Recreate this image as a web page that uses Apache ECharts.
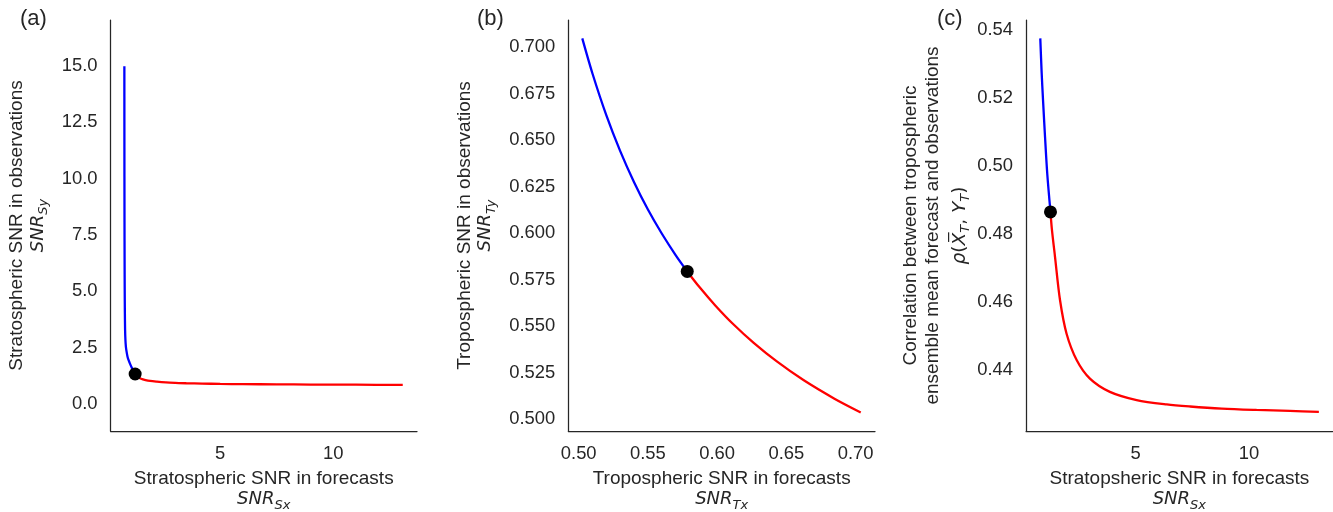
<!DOCTYPE html>
<html>
<head>
<meta charset="utf-8">
<script src="https://cdn.jsdelivr.net/npm/echarts@6/dist/echarts.min.js"></script>
<style>html,body{margin:0;padding:0;background:#fff}#c{width:1333px;height:512px}</style>
</head>
<body>
<div id="c"></div>
<script>
// Panel (a): stratospheric SNR in observations vs forecasts
const aBlueX = [0.763, 0.764, 0.766, 0.769, 0.773, 0.778, 0.785, 0.795, 0.81, 0.83, 0.85, 0.90, 0.95, 1.01, 1.10, 1.24];
const aBlueY = [14.9, 12.5, 10.0, 8.0, 6.3, 5.0, 4.0, 3.2, 2.75, 2.45, 2.3, 2.02, 1.85, 1.70, 1.50, 1.24];
const aRedX = [1.24, 1.35, 1.5, 1.7, 1.9, 2.2, 2.6, 3.0, 3.5, 4.2, 5.0, 6.0, 7.5, 9.0, 11.0, 13.07];
const aRedY = [1.24, 1.11, 1.03, 0.97, 0.93, 0.90, 0.87, 0.85, 0.83, 0.815, 0.80, 0.79, 0.78, 0.772, 0.764, 0.755];
const aDot = [1.24, 1.24];
const aYTicks = [0, 2.5, 5, 7.5, 10, 12.5, 15];
const aXTicks = [5, 10];

// Panel (b): tropospheric SNR in observations vs forecasts
const bBlueX = [0.5026, 0.510, 0.520, 0.530, 0.540, 0.550, 0.560, 0.570, 0.5784];
const bBlueY = [0.7037, 0.6847, 0.6623, 0.6431, 0.6264, 0.6117, 0.5988, 0.5872, 0.5784];
const bRedX = [0.5784, 0.5872, 0.5988, 0.6117, 0.6264, 0.6431, 0.6623, 0.6847, 0.7037];
const bRedY = [0.5784, 0.570, 0.560, 0.550, 0.540, 0.530, 0.520, 0.510, 0.5026];
const bDot = [0.5784, 0.5784];
const bYTicks = [0.500, 0.525, 0.550, 0.575, 0.600, 0.625, 0.650, 0.675, 0.700];
const bXTicks = [0.50, 0.55, 0.60, 0.65, 0.70];

// Panel (c): correlation vs stratospheric SNR in forecasts
const cBlueX = [0.79, 0.85, 0.91, 1.0, 1.1, 1.24];
const cBlueY = [0.537, 0.527, 0.519, 0.508, 0.497, 0.486];
const cRedX = [1.24, 1.3, 1.44, 1.66, 1.95, 2.4, 2.98, 3.86, 5.04, 6.37, 7.4, 8.8, 10.33, 11.8, 13.08];
const cRedY = [0.486, 0.481, 0.4728, 0.4601, 0.4502, 0.4424, 0.4370, 0.4331, 0.4307, 0.4294, 0.4288, 0.4282, 0.4278, 0.4275, 0.4272];
const cDot = [1.24, 0.486];
const cYTicks = [0.44, 0.46, 0.48, 0.50, 0.52, 0.54];
const cXTicks = [5, 10];

const FONT = 'Liberation Sans';
const MATH = 'DejaVu Sans';
const FS = 18.4;
const TFS = 19;
const INK = '#262626';

function zip(xs, ys) { return xs.map((x, i) => [x, ys[i]]); }

const rich = {
  t: { fontFamily: FONT, fontSize: TFS, color: INK, lineHeight: 21 },
  m: { fontFamily: MATH, fontStyle: 'italic', fontSize: 18, color: INK, lineHeight: 21 },
  r: { fontFamily: MATH, fontSize: 18, color: INK, lineHeight: 21 },
  s: { fontFamily: MATH, fontStyle: 'italic', fontSize: 13, color: INK, lineHeight: 21, padding: [12, 0, 0, 0] },
  tc: { fontFamily: FONT, fontSize: TFS, color: INK, lineHeight: 22 },
  m3: { fontFamily: MATH, fontStyle: 'italic', fontSize: 18.5, color: INK, lineHeight: 32 },
  r3: { fontFamily: MATH, fontSize: 18.5, color: INK, lineHeight: 32 },
  s3: { fontFamily: MATH, fontStyle: 'italic', fontSize: 13, color: INK, lineHeight: 32, padding: [12, 0, 0, 0] }
};
const tickRich = {
  v: { fontFamily: FONT, fontSize: FS, color: INK, lineHeight: 22, padding: [4, 0, 0, 0] }
};

const grids = [
  { left: 110.5, top: 20, width: 306.5, height: 411, outerBoundsMode: 'none', containLabel: false },
  { left: 568.3, top: 20, width: 306.7, height: 411, outerBoundsMode: 'none', containLabel: false },
  { left: 1026, top: 20, width: 306.7, height: 411, outerBoundsMode: 'none', containLabel: false }
];

function xAx(gi, min, max, ticks, fmt, name) {
  return {
    type: 'value', gridIndex: gi, min: min, max: max,
    axisLine: { show: true, onZero: false, lineStyle: { color: INK, width: 1.25 } },
    axisTick: { show: false },
    splitLine: { show: false },
    axisLabel: { customValues: ticks, formatter: fmt, fontFamily: FONT, fontSize: FS, color: INK, margin: 14 },
    name: name, nameLocation: 'middle', nameGap: 37,
    nameTextStyle: { rich: rich }
  };
}
function yAx(gi, min, max, ticks, fmt, name, gap) {
  return {
    type: 'value', gridIndex: gi, min: min, max: max,
    axisLine: { show: true, onZero: false, lineStyle: { color: INK, width: 1.25 } },
    axisTick: { show: false },
    splitLine: { show: false },
    axisLabel: { customValues: ticks, formatter: v => '{v|' + fmt(v) + '}', rich: tickRich, fontFamily: FONT, fontSize: FS, color: INK, margin: 13 },
    name: name, nameLocation: 'middle', nameGap: gap, nameRotate: 90,
    nameTextStyle: { rich: rich }
  };
}

function line(gi, data, color) {
  return {
    type: 'line', xAxisIndex: gi, yAxisIndex: gi, data: data,
    showSymbol: false, smooth: 0.3,
    lineStyle: { color: color, width: 2.3 }, silent: true, animation: false
  };
}
function dot(gi, p) {
  return {
    type: 'scatter', xAxisIndex: gi, yAxisIndex: gi, data: [p],
    symbolSize: 13, itemStyle: { color: '#000', opacity: 1 }, z: 10, animation: false
  };
}

const f1 = v => v.toFixed(1), f0 = v => v.toFixed(0), f2 = v => v.toFixed(2), f3 = v => v.toFixed(3);

const option = {
  backgroundColor: '#fff',
  animation: false,
  grid: grids,
  xAxis: [
    xAx(0, 0.15, 13.7, aXTicks, f0, '{t|Stratospheric SNR in forecasts}\n{m|SNR}{s|Sx}'),
    xAx(1, 0.4925, 0.714, bXTicks, f2, '{t|Tropospheric SNR in forecasts}\n{m|SNR}{s|Tx}'),
    xAx(2, 0.16, 13.69, cXTicks, f0, '{t|Stratopsheric SNR in forecasts}\n{m|SNR}{s|Sx}')
  ],
  yAxis: [
    yAx(0, -1.29, 16.95, aYTicks, f1, '{t|Stratospheric SNR in observations}\n{m|SNR}{s|Sy}', 62),
    yAx(1, 0.4926, 0.7136, bYTicks, f3, '{t|Tropospheric SNR in observations}\n{m|SNR}{s|Ty}', 72),
    yAx(2, 0.4216, 0.5424, cYTicks, f2, '{tc|Correlation between tropospheric}\n{tc|ensemble mean forecast and observations}\n{m3|\u03c1}{r3|(}{m3|X\u0305}{s3|T}{r3|, }{m3|Y}{s3|T}{r3|)}', 50)
  ],
  series: [
    line(0, zip(aBlueX, aBlueY), '#0000ff'),
    line(0, zip(aRedX, aRedY), '#ff0000'),
    dot(0, aDot),
    line(1, zip(bBlueX, bBlueY), '#0000ff'),
    line(1, zip(bRedX, bRedY), '#ff0000'),
    dot(1, bDot),
    line(2, zip(cBlueX, cBlueY), '#0000ff'),
    line(2, zip(cRedX, cRedY), '#ff0000'),
    dot(2, cDot)
  ],
  graphic: [
    { type: 'text', left: 20, top: 8, style: { text: '(a)', font: '22px "Liberation Sans"', fill: INK } },
    { type: 'text', left: 477, top: 8, style: { text: '(b)', font: '22px "Liberation Sans"', fill: INK } },
    { type: 'text', left: 937, top: 8, style: { text: '(c)', font: '22px "Liberation Sans"', fill: INK } }
  ]
};

const chart = echarts.init(document.getElementById('c'), null, { renderer: 'canvas' });
chart.setOption(option);
</script>
</body>
</html>
